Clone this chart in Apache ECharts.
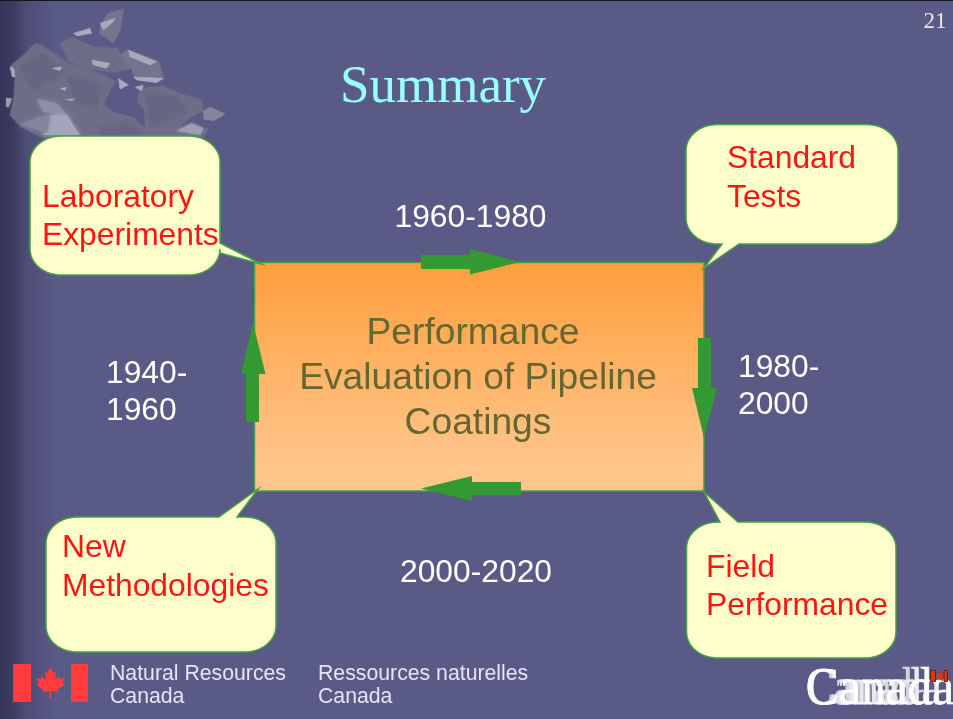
<!DOCTYPE html>
<html><head><meta charset="utf-8">
<style>html,body{margin:0;padding:0;background:#5a5a87}#c{width:953px;height:719px}</style>
<script src="https://cdn.jsdelivr.net/npm/echarts@6/dist/echarts.min.js"></script>
</head><body><div id="c"></div>
<script>
// ---- content ----
const title = 'Summary';
const pageNumber = '21';
const centerLines = ['Performance', 'Evaluation of Pipeline', 'Coatings'];
const calloutLab = ['Laboratory', 'Experiments'];
const calloutStd = ['Standard', 'Tests'];
const calloutNew = ['New', 'Methodologies'];
const calloutField = ['Field', 'Performance'];
const period1 = ['1940-', '1960'];
const period2 = ['1960-1980'];
const period3 = ['1980-', '2000'];
const period4 = ['2000-2020'];
const footerEn = ['Natural Resources', 'Canada'];
const footerFr = ['Ressources naturelles', 'Canada'];
const wordmark = 'Canada';

// ---- style ----
const SANS = '"Liberation Sans", Arial, sans-serif';
const SERIF = '"Liberation Serif", "Times New Roman", serif';
const GREEN = '#339933', EDGE = '#46a046', CREAM = '#ffffcc', RED = '#ff1414';
const BODY = 31.8;
const els = [];
function lines(arr, x, ys, size, fill, family, align) {
  arr.forEach((t, i) => {
    const xx = Array.isArray(x) ? x[i] : x;
    els.push({type:'text', z:20, style:{text:t, x:xx, y:ys[i], fill, font:size+'px '+family,
      align:align||'left', textAlign:align||'left', verticalAlign:'middle', textVerticalAlign:'middle'}});
  });
}
function poly(points, fill, z, soft) {
  const style = {fill, lineWidth:0};
  if (soft) { style.shadowBlur = soft; style.shadowColor = fill; }
  els.push({type:'polygon', z:z||5, shape:{points}, style});
}
function corner(pts, p0, c1, c2, p3) {
  for (let i = 0; i <= 14; i++) {
    const t = i/14, u = 1-t;
    pts.push([u*u*u*p0[0]+3*u*u*t*c1[0]+3*u*t*t*c2[0]+t*t*t*p3[0],
              u*u*u*p0[1]+3*u*u*t*c1[1]+3*u*t*t*c2[1]+t*t*t*p3[1]]);
  }
}
function callout(x0, y0, x1, y1, tail) {
  // rounded box with a pointer; tail = {side:'top'|'bottom'|'right', a, b, tip:[x,y]}
  const rx = 31, ry = 26, kx = rx*0.55, ky = ry*0.55, pts = [];
  if (tail.side==='top') pts.push([tail.a,y0],tail.tip,[tail.b,y0]);
  corner(pts,[x1-rx,y0],[x1-rx+kx,y0],[x1,y0+ry-ky],[x1,y0+ry]);
  if (tail.side==='right') pts.push([x1,tail.a],tail.tip,[x1,tail.b]);
  corner(pts,[x1,y1-ry],[x1,y1-ry+ky],[x1-rx+kx,y1],[x1-rx,y1]);
  if (tail.side==='bottom') pts.push([tail.b,y1],tail.tip,[tail.a,y1]);
  corner(pts,[x0+rx,y1],[x0+rx-kx,y1],[x0,y1-ry+ky],[x0,y1-ry]);
  corner(pts,[x0,y0+ry],[x0,y0+ry-ky],[x0+rx-kx,y0],[x0+rx,y0]);
  els.push({type:'polygon', z:12, shape:{points:pts}, style:{fill:CREAM, stroke:EDGE, lineWidth:1.5}});
}

// background
els.push({type:'rect', z:0, shape:{x:0,y:0,width:953,height:719}, style:{fill:'#5a5a87'}});
els.push({type:'rect', z:1, shape:{x:0,y:0,width:56,height:719}, style:{fill:{type:'linear',x:0,y:0,x2:1,y2:0,colorStops:[
  {offset:0,color:'#35355a'},{offset:.22,color:'#3b3b5f'},{offset:.5,color:'#4e4e78'},{offset:1,color:'#5a5a87'}]}}});
els.push({type:'rect', z:2, shape:{x:0,y:0,width:953,height:1}, style:{fill:'#15151f'}});

// map of Canada (zoomed-crop coordinates / 3)
const m = a => a.map(p => [p[0]/3, p[1]/3]);
const MAP = '#6d6d88', MAP2 = '#74748e';
poly(m([[30,200],[70,165],[105,132],[125,135],[170,165],[205,190],[260,205],[310,225],[345,245],[335,265],[312,312],[340,335],[400,350],[420,372],[436,385],[432,330],[410,310],[420,265],[490,258],[540,282],[605,298],[610,332],[572,350],[530,392],[625,385],[610,415],[130,415],[60,378],[30,345],[42,290],[45,230]]), MAP, 5, 2);
poly(m([[180,130],[215,112],[280,140],[350,145],[395,205],[345,218],[260,205],[205,182]]), MAP, 5, 2);
poly(m([[300,80],[325,40],[370,28],[360,92],[340,128],[300,102]]), MAP2, 5, 2);
poly(m([[380,150],[475,182],[492,240],[402,228],[362,165]]), MAP2, 5, 2);
poly(m([[610,332],[632,322],[676,342],[642,362],[612,358]]), '#85859e', 5, 1);
poly(m([[18,293],[36,296],[25,323],[18,318]]), '#9a9ab0', 5, 1);
poly(m([[30,200],[42,205],[45,232],[36,230]]), '#a4a4ba', 6, 1);
poly(m([[110,298],[170,310],[205,350],[130,335]]), '#8e8ea8', 6, 5);
poly(m([[150,345],[200,345],[240,405],[130,405]]), '#a4a4ba', 6, 5);
poly(m([[120,350],[150,345],[140,400],[60,372]]), '#84849f', 6, 5);
poly(m([[200,230],[300,250],[290,330],[230,300]]), '#666682', 6, 5);
poly(m([[60,200],[130,160],[190,220],[100,270]]), '#666682', 6, 5);
poly(m([[440,280],[530,290],[560,340],[450,380]]), '#666682', 6, 5);
poly(m([[300,380],[400,370],[430,400],[300,405]]), '#666682', 6, 5);
poly(m([[530,392],[575,370],[610,385],[600,405]]), '#9d9db4', 6, 3);
[[[300,70],[345,55],[340,65],[310,90]],[[220,100],[270,85],[275,100],[232,108]],[[385,150],[470,185],[450,195],[390,170]],
 [[275,180],[330,190],[320,205],[280,195]],[[400,230],[490,235],[470,248],[410,240]],[[155,205],[185,200],[180,212]],
 [[180,265],[200,262],[195,272]],[[355,235],[385,255],[360,268]],[[195,298],[225,296],[215,302]],[[405,262],[430,255],[425,272]]
].forEach(p => poly(m(p), '#a8a8be', 7, 1));
// Hudson Bay and northern gaps show the background
poly(m([[312,312],[335,262],[372,272],[402,265],[415,308],[432,330],[420,345],[432,378],[402,350],[340,335]]), '#5a5a87', 8);
poly(m([[350,215],[395,205],[400,238],[370,240]]), '#5a5a87', 8);

// central box
els.push({type:'rect', z:9, shape:{x:254.5,y:262.5,width:449.5,height:228.5},
  style:{stroke:EDGE, lineWidth:1.5, fill:{type:'linear',x:0,y:0,x2:0,y2:1,colorStops:[
    {offset:0,color:'#ff9e3c'},{offset:.85,color:'#ffc488'},{offset:1,color:'#ffc68c'}]}}});
lines(centerLines, [473,478,478], [333.5,378.5,423.5], 37.2, '#666633', SANS, 'center');

// callouts
callout(30,136,220,275,{side:'right',a:243,b:253,tip:[261,264]});
callout(686,124.5,898,244,{side:'bottom',a:722,b:739,tip:[704,268]});
callout(46,517,276,652,{side:'top',a:219,b:237,tip:[258,489]});
callout(686.5,522,896,658,{side:'top',a:720,b:738,tip:[704,492]});
lines(calloutLab, 42, [198,236], BODY, RED, SANS);
lines(calloutStd, 727, [159,198], BODY, RED, SANS);
lines(calloutNew, 62, [548,587], BODY, RED, SANS);
lines(calloutField, 706, [568,606], BODY, RED, SANS);

// flow arrows
poly([[421,255],[470,255],[470,249],[520,262],[470,274.5],[470,269],[421,269]], GREEN, 15);
poly([[246,422],[246,374],[241,374],[253,323],[265.5,374],[259,374],[259,422]], GREEN, 15);
poly([[698,338],[711,338],[711,388],[717,388],[704,438],[692,388],[698,388]], GREEN, 15);
poly([[521,482],[472,482],[472,476],[421,488.5],[472,501],[472,495],[521,495]], GREEN, 15);

// period labels
lines(period1, 106, [374,411], BODY, '#ffffff', SANS);
lines(period2, 470.5, [218], BODY, '#ffffff', SANS, 'center');
lines(period3, 738, [368,405], BODY, '#ffffff', SANS);
lines(period4, 476, [573], BODY, '#ffffff', SANS, 'center');

// title and page number
lines([title], 443, [88], 53, '#99ffff', SERIF, 'center');
lines([pageNumber], 935, [22], 23, '#e8e8dc', SERIF, 'center');

// footer: flag
els.push({type:'rect', z:5, shape:{x:13,y:664,width:18,height:38}, style:{fill:'#ff3b3b'}});
els.push({type:'rect', z:5, shape:{x:71,y:664,width:17,height:38}, style:{fill:'#ff3b3b'}});
const leaf = [[50,667],[53.5,673],[56,672],[55,680],[59,676],[60,679],[64,678],[63,683],[64,685],[57,690],[58,692],[51,691],[51,698],[49.5,698],[49.5,691],[42,692],[43,690],[37,685],[38,683],[36.5,678],[41,679],[42,676],[46,680],[45,672],[47.5,673]];
poly(leaf, '#ff3b3b', 5);
lines(footerEn, 110, [674,697], 21.25, '#e4e4fa', SANS);
lines(footerFr, 318, [674,697], 21.25, '#e4e4fa', SANS);

// wordmark (overlaid, as in the reference)
[[806,0.80,'#d4d4e2'],[806,0.87,'#e8e8f2'],[806,0.95,'#ffffff']].forEach(([x,sx,c]) => {
  els.push({type:'text', z:20, x, y:690, scaleX:sx, style:{text:wordmark, x:0, y:0, fill:c, stroke:c, lineWidth:0.6, font:'52px '+SERIF,
    align:'left', textAlign:'left', verticalAlign:'middle', textVerticalAlign:'middle'}});
});
els.push({type:'rect', z:21, shape:{x:930.5,y:670.5,width:5,height:11}, style:{fill:'#d83a10', stroke:'#702010', lineWidth:1}});
els.push({type:'rect', z:21, shape:{x:944,y:670.5,width:3.5,height:11}, style:{fill:'#d83a10', stroke:'#702010', lineWidth:1}});
poly([[936,676],[942,671],[943,681],[938,679]], '#d83a10', 21);

const chart = echarts.init(document.getElementById('c'), null, {renderer:'canvas', width:953, height:719});
chart.setOption({animation:false, backgroundColor:'#5a5a87', graphic:{elements:els}});
</script></body></html>
